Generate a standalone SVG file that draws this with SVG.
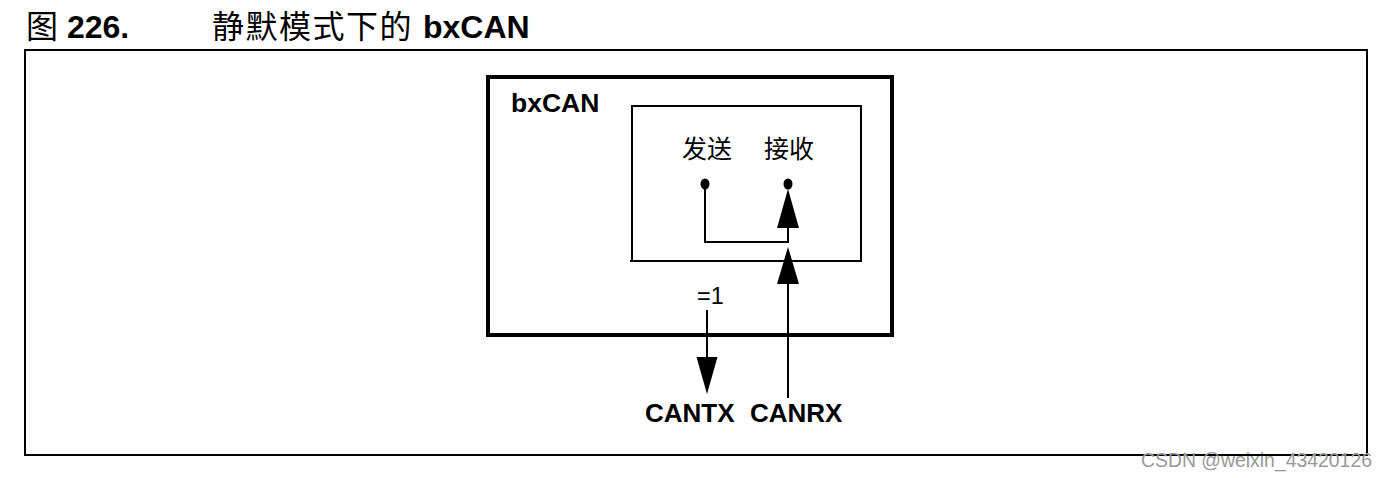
<svg xmlns="http://www.w3.org/2000/svg" width="1388" height="478" viewBox="0 0 1388 478">
<style>
text{font-family:"Liberation Sans","Noto Sans CJK SC",sans-serif;fill:#000}
.b{font-weight:bold}
.ln{stroke:#000;stroke-width:2;fill:none}
</style>
<rect width="1388" height="478" fill="#fff"/>
<g id="title">
<text x="26" y="38" font-size="32">图 <tspan class="b">226.</tspan></text>
<text x="212" y="38" font-size="32" letter-spacing="1.5">静默模式下的</text>
<text class="b" x="423" y="38" font-size="32">bxCAN</text>
</g>
<rect id="frame" x="25" y="50" width="1342" height="405" fill="none" stroke="#000" stroke-width="2"/>
<g id="bxcan">
<rect x="488" y="77" width="404" height="258" fill="none" stroke="#000" stroke-width="4"/>
<text class="b" x="511" y="112" font-size="26.5">bxCAN</text>
</g>
<g id="inner">
<path d="M632 261 V106 H861 V261 M630 261 H862" class="ln" stroke-width="1.6"/>
<text x="682" y="158" font-size="25">发送</text>
<text x="764" y="158" font-size="25">接收</text>
<ellipse cx="705" cy="184" rx="4.5" ry="5.5"/>
<ellipse cx="788" cy="184" rx="4.5" ry="5.5"/>
</g>
<g id="connectors">
<path d="M705 186 V242 H788 V228" class="ln"/>
<polygon points="788,189 799,228 777,228" fill="#000"/>
<path d="M788 398 V283" class="ln"/>
<polygon points="788,247 799,284 777,284" fill="#000"/>
<path d="M707 310 V358" class="ln"/>
<polygon points="707,394 717.5,357 696.5,357" fill="#000"/>
</g>
<g id="labels">
<text x="697" y="304" font-size="23.5">=1</text>
<text class="b" x="645" y="422" font-size="26">CANTX</text>
<text class="b" x="750" y="422" font-size="26">CANRX</text>
</g>
<text x="1141" y="467" font-size="19.4" style="fill:#999">CSDN @weixin_43420126</text>
</svg>
